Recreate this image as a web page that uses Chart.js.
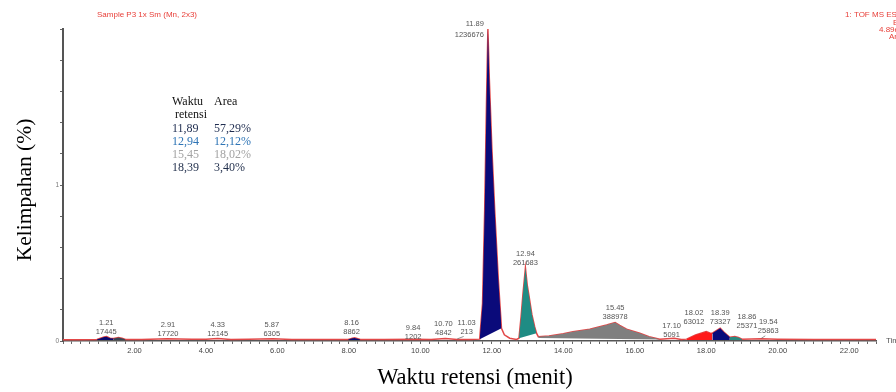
<!DOCTYPE html>
<html><head><meta charset="utf-8">
<script src="https://cdn.jsdelivr.net/npm/chart.js@4.4.1/dist/chart.umd.min.js"></script>
<style>html,body{margin:0;padding:0;background:#fff;overflow:hidden}canvas{display:block}</style>
</head><body>
<canvas id="c" width="896" height="392"></canvas>
<script>
// ---- data ----
const traceTimes  = [0.00,0.50,0.95,1.05,1.15,1.22,1.32,1.42,1.55,1.65,1.75,2.20,2.91,3.60,4.00,4.33,4.70,5.20,5.87,6.40,7.50,7.98,8.10,8.16,8.32,9.00,9.84,10.30,10.70,11.03,11.40,11.66,11.74,11.80,11.85,11.89,11.93,12.00,12.08,12.18,12.27,12.35,12.50,12.69,12.76,12.82,12.87,12.94,12.99,13.04,13.12,13.20,13.25,13.30,13.60,14.00,14.27,14.74,15.21,15.45,15.58,15.77,16.14,16.40,16.70,17.10,17.30,17.45,17.70,18.00,18.10,18.17,18.39,18.50,18.66,18.80,18.90,19.00,19.54,20.00,21.00,22.75];
const traceValues = [0.4,0.4,0.5,0.9,1.3,1.4,0.9,0.8,1.1,0.9,0.5,0.5,0.7,0.6,0.6,0.8,0.5,0.6,0.7,0.5,0.5,0.5,0.9,1.0,0.5,0.5,0.6,0.5,0.8,0.5,0.5,0.6,12,42,76,100,84,62,42,20,4.1,2.0,0.9,0.5,0.9,8,15,23.4,18,14.5,8.5,4.5,2.5,1.4,1.6,2.3,3.0,3.8,5.1,5.9,5.0,3.8,2.5,1.4,0.6,0.9,0.5,0.6,1.9,3.0,2.6,2.5,4.1,2.8,1.2,1.4,1.1,0.6,0.7,0.6,0.5,0.5];

const peakTimes   = ['1.21','2.91','4.33','5.87','8.16','9.84','10.70','11.03','11.89','12.94','15.45','17.10','18.02','18.39','18.86','19.54'];
const peakAreas   = ['17445','17720','12145','6305','8862','1202','4842','213','1236676','261683','388978','5091','63012','73327','25371','25863'];
const peakHeights = [1.4,0.7,0.8,0.7,1.0,0.6,0.8,0.5,100,23.4,5.9,0.9,3.0,4.1,1.4,0.7];

// integrated regions (start/end time, baseline level at start/end)
const fillStarts    = [0.95,1.42,7.98,11.66,12.76,13.30,17.45,18.17,18.66];
const fillEnds      = [1.42,1.75,8.32,12.27,13.25,16.70,18.17,18.66,19.00];
const fillBaseStart = [0.3,0.3,0.3,0.6,0.9,1.0,0.3,0.3,0.3];
const fillBaseEnd   = [0.3,0.3,0.3,4.1,2.5,0.5,0.3,0.3,0.3];

const xTickValues = [2,4,6,8,10,12,14,16,18,20,22];
const xTickLabels = ['2.00','4.00','6.00','8.00','10.00','12.00','14.00','16.00','18.00','20.00','22.00'];
const yTickValues = [0,50];
const yTickLabels = ['0','1'];

const tableTimes = ['11,89','12,94','15,45','18,39'];
const tableAreas = ['57,29%','12,12%','18,02%','3,40%'];

// ---- styles ----
const fillColors = ['#0b0b6e','#3c4654','#0b0b6e','#0a0a7a','#1f8c84','#7f7f7f','#ff1a1a','#0a0a7a','#2a8a80'];
const tableColors = ['#1f2d50','#2e74b5','#a3a3a3','#1f2d4a'];
// [dx, dy, align, lineSpacing]
const labelLayout = [[0,1,'center',9],[1,1,'center',9],[0,1,'center',9],[-1,1,'center',9],[-3,0,'center',9],[-1.5,3,'center',9],[-2,-0.5,'center',9],[9.5,-2,'center',9],[-4,11.5,'right',11],[0,0,'center',9],[0,0,'center',9],[-2.5,2,'center',9],[-13,-4.5,'center',9],[0,-1,'center',9],[10,-5,'center',9],[7,-2.5,'center',9]];

const tracePts = traceTimes.map((t,i)=>({x:t,y:traceValues[i]}));
const datasets = [{
  data: tracePts, borderColor:'#e24848', borderWidth:1.5, pointRadius:0,
  tension:0, fill:false, order:5
}];
fillStarts.forEach((s,i)=>{
  const e = fillEnds[i];
  datasets.push({
    data: tracePts.filter(p=>p.x>=s-1e-9 && p.x<=e+1e-9),
    borderColor:'rgba(0,0,0,0)', borderWidth:0, pointRadius:0,
    tension:0, backgroundColor: fillColors[i], fill:'+1', order:1
  });
  datasets.push({
    data:[{x:s,y:fillBaseStart[i]},{x:e,y:fillBaseEnd[i]}],
    borderColor:'rgba(0,0,0,0)', borderWidth:0, pointRadius:0, fill:false, order:1
  });
});

const textPlugin = {
  id:'texts',
  afterDraw(chart){
    const ctx = chart.ctx, xs = chart.scales.x, ys = chart.scales.y;
    ctx.save();
    ctx.textBaseline='middle';
    // header
    ctx.fillStyle='#e8403a';
    ctx.font='8px "Liberation Sans", Arial, sans-serif';
    ctx.textAlign='left';
    ctx.fillText('Sample P3 1x Sm (Mn, 2x3)', 97, 15);
    ctx.fillText('1: TOF MS ES+', 845, 15);
    ctx.fillText('BPI', 893, 22.5);
    ctx.fillText('4.89e5', 879, 29.5);
    ctx.fillText('Area', 889, 36.5);
    // Time label
    ctx.fillStyle='#555';
    ctx.fillText('Time', 886, 341);
    // peak labels
    ctx.font='7.5px "Liberation Sans", Arial, sans-serif';
    peakTimes.forEach((t,i)=>{
      const [dx,dy,al,sp] = labelLayout[i];
      const px = xs.getPixelForValue(parseFloat(t)) + dx;
      const py = ys.getPixelForValue(peakHeights[i]) - 5.5 + dy;
      ctx.textAlign = al;
      ctx.fillText(t, px, py - sp);
      ctx.fillText(peakAreas[i], px, py);
    });
    // leader lines
    ctx.strokeStyle='#666'; ctx.lineWidth=0.7;
    [7,15].forEach((i)=>{
      const px = xs.getPixelForValue(parseFloat(peakTimes[i]));
      const py = ys.getPixelForValue(peakHeights[i]);
      ctx.beginPath(); ctx.moveTo(px+labelLayout[i][0]-3, py-3); ctx.lineTo(px, py-0.5); ctx.stroke();
    });
    // table
    ctx.textAlign='left';
    ctx.font='12px "Liberation Serif", "Times New Roman", serif';
    ctx.fillStyle='#111';
    ctx.fillText('Waktu', 172, 101.5);
    ctx.fillText('Area', 214, 101.5);
    ctx.fillText('retensi', 175, 115);
    tableTimes.forEach((t,i)=>{
      ctx.fillStyle = tableColors[i];
      const y = 128.5 + i*13;
      ctx.fillText(t, 172, y);
      ctx.fillText(tableAreas[i], 214, y);
    });
    // axis titles
    ctx.fillStyle='#000';
    ctx.textAlign='center';
    ctx.font='22.5px "Liberation Serif", "Times New Roman", serif';
    ctx.fillText('Waktu retensi (menit)', 475, 378);
    ctx.font='21.5px "Liberation Serif", "Times New Roman", serif';
    ctx.translate(25, 190);
    ctx.rotate(-Math.PI/2);
    ctx.fillText('Kelimpahan (%)', 0, 0);
    ctx.restore();
  }
};

new Chart(document.getElementById('c'), {
  type:'line',
  data:{datasets},
  plugins:[textPlugin],
  options:{
    responsive:false, animation:false, devicePixelRatio:1,
    layout:{padding:{top:29,right:20,left:0,bottom:0}},
    plugins:{legend:{display:false}, tooltip:{enabled:false}},
    scales:{
      x:{
        type:'linear', min:0, max:22.75,
        afterFit(s){ s.height = 51; },
        grid:{drawOnChartArea:false, drawTicks:true, tickLength:3, color:'#666'},
        border:{color:'#555', width:1.5},
        ticks:{
          stepSize:0.25, autoSkip:false, maxRotation:0, maxTicksLimit:1000,
          padding:2, color:'#444',
          font:{size:7.5, family:'"Liberation Sans", Arial, sans-serif'},
          callback:(v)=>{ const k = xTickValues.indexOf(v); return k>=0 ? xTickLabels[k] : ''; }
        }
      },
      y:{
        min:0, max:100,
        afterFit(s){ s.width = 63; },
        grid:{drawOnChartArea:false, drawTicks:true, tickLength:3, color:'#666'},
        border:{color:'#555', width:2},
        ticks:{
          stepSize:10, autoSkip:false, padding:1, color:'#777',
          font:{size:6.5, family:'"Liberation Sans", Arial, sans-serif'},
          callback:(v)=>{ const k = yTickValues.indexOf(v); return k>=0 ? yTickLabels[k] : ''; }
        }
      }
    }
  }
});
</script>
</body></html>
